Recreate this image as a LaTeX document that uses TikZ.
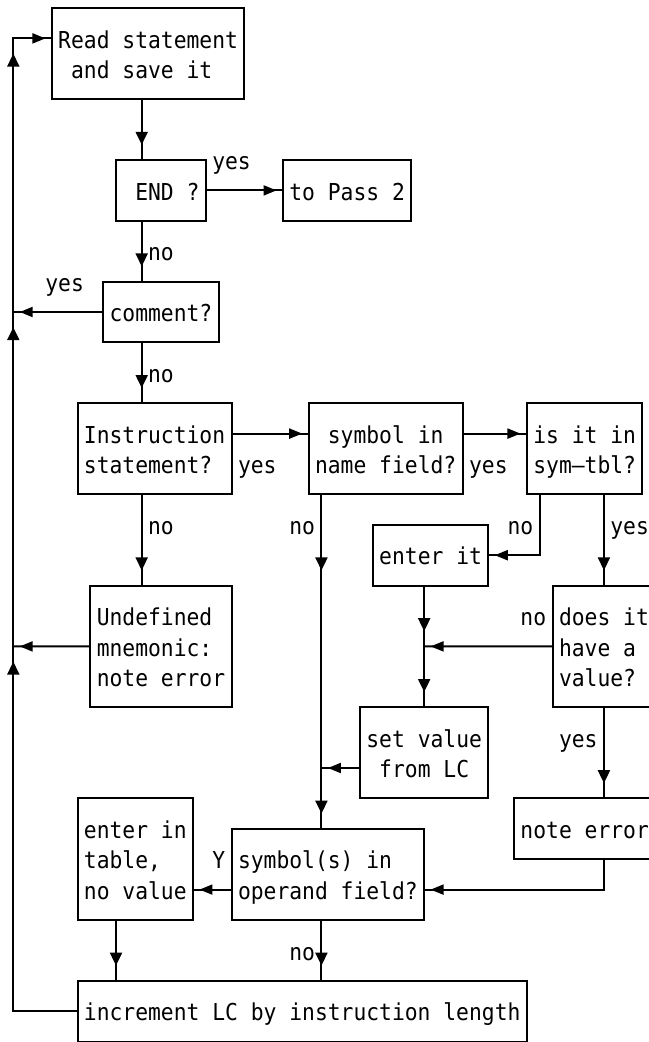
\documentclass[tikz,border=0pt]{standalone}
\usepackage{fontspec}
\newfontfamily\dmono[FakeStretch=0.9153]{DejaVu Sans Mono}
\usetikzlibrary{arrows.meta,decorations.markings}
\newcommand\bxl[1]{\mbox{\spaceskip=12.84pt\relax\xspaceskip=12.84pt\relax\rule[-5.6pt]{0pt}{30.4pt}#1}}
\tikzset{
  vhead/.tip={Triangle[length=13pt,width=12pt]},
  hhead/.tip={Triangle[length=13pt,width=10pt]},
  txt/.style={font={\fontsize{23.3pt}{30.4pt}\dmono\parindent=0pt}},
  box/.style={txt, draw, line width=2pt, anchor=north west, inner xsep=6.42pt,
              inner ysep=0pt, outer sep=0pt, align=left},
  lbl/.style={txt, anchor=west, inner sep=0pt, outer sep=0pt},
  conn/.style={draw, line width=2pt, line join=miter},
  vtip/.style={postaction={decorate}, decoration={markings,
      mark=at position #1 with {\arrow{vhead}}}},
  htip/.style={postaction={decorate}, decoration={markings,
      mark=at position #1 with {\arrow{hhead}}}},
}
\begin{document}
\begin{tikzpicture}[x=12.84pt,y=-30.4pt]
\path[use as bounding box] (-1.03583,-0.26316) rectangle (49.509,34.0132);
\clip (-1.03583,-0.26316) rectangle (49.509,34.0132);

\foreach \c in {0,8,10,24,32,41,46} \coordinate (c\c) at (\c,0);
\foreach \r in {1,14,25,29} \coordinate (r\r) at (0,\r);

% boxes
\node[box, text width=179.76pt, minimum height=91.2pt] (read) at (3,0) {\bxl{Read statement}\\\bxl{ and save it}};
\node[box, text width=77.04pt, minimum height=60.8pt] (endq) at (8,5) {\bxl{ END ?}};
\node[box, text width=115.56pt, minimum height=60.8pt] (pass) at (21,5) {\bxl{to Pass 2}};
\node[box, text width=102.72pt, minimum height=60.8pt] (comm) at (7,9) {\bxl{comment?}};
\node[box, text width=141.24pt, minimum height=91.2pt] (instr) at (5,13) {\bxl{Instruction}\\\bxl{statement?}};
\node[box, text width=141.24pt, minimum height=91.2pt] (sym) at (23,13) {\bxl{ symbol in}\\\bxl{name field?}};
\node[box, text width=102.72pt, minimum height=91.2pt] (intbl) at (40,13) {\bxl{is it in}\\\bxl{sym—tbl?}};
\node[box, text width=128.4pt, minimum height=121.6pt] (undef) at (6,19) {\bxl{Undefined}\\\bxl{mnemonic:}\\\bxl{note error}};
\node[box, text width=102.72pt, minimum height=60.8pt] (enterit) at (28,17) {\bxl{enter it}};
\node[box, text width=115.56pt, minimum height=121.6pt] (doesit) at (42,19) {\bxl{does it}\\\bxl{have a}\\\bxl{value?}};
\node[box, text width=115.56pt, minimum height=91.2pt] (setval) at (27,23) {\bxl{set value}\\\bxl{ from LC}};
\node[box, text width=102.72pt, minimum height=121.6pt] (entertbl) at (5,26) {\bxl{enter in}\\\bxl{table,}\\\bxl{no value}};
\node[box, text width=179.76pt, minimum height=91.2pt] (symop) at (17,27) {\bxl{symbol(s) in}\\\bxl{operand field?}};
\node[box, text width=141.24pt, minimum height=60.8pt] (noteerr) at (39,26) {\bxl{note error}};
\node[box, text width=436.56pt, minimum height=60.8pt] (incr) at (5,32) {\bxl{increment LC by instruction length}};

% labels
\node[lbl] (l1) at (15.5,5) {\bxl{yes}};
\node[lbl] (l2) at (10.5,8) {\bxl{no}};
\node[lbl] (l3) at (2.5,9) {\bxl{yes}};
\node[lbl] (l4) at (10.5,12) {\bxl{no}};
\node[lbl] (l5) at (17.5,15) {\bxl{yes}};
\node[lbl] (l6) at (35.5,15) {\bxl{yes}};
\node[lbl] (l7) at (10.5,17) {\bxl{no}};
\node[lbl] (l8) at (21.5,17) {\bxl{no}};
\node[lbl] (l9) at (38.5,17) {\bxl{no}};
\node[lbl] (l10) at (46.5,17) {\bxl{yes}};
\node[lbl] (l11) at (39.5,20) {\bxl{no}};
\node[lbl] (l12) at (42.5,24) {\bxl{yes}};
\node[lbl] (l13) at (15.5,28) {\bxl{Y}};
\node[lbl] (l14) at (21.5,31) {\bxl{no}};

% junction points on lines
\coordinate (j1) at (0,10);
\coordinate (j2) at (0,21);
\coordinate (j3) at (32,21);
\coordinate (j4) at (24,25);

% connectors
\draw[conn, vtip=-15.2pt] (read.south -| c10) -- (endq.north -| c10);
\draw[conn, htip=-6.42pt] (endq.east) -- (pass.west);
\draw[conn, vtip=-15.2pt] (endq.south -| c10) -- (comm.north -| c10);
\draw[conn, htip=-6.42pt] (comm.west) -- (j1);
\draw[conn, vtip=-15.2pt] (comm.south -| c10) -- (instr.north -| c10);
\draw[conn, htip=-6.42pt] (instr.east |- r14) -- (sym.west |- r14);
\draw[conn, htip=-6.42pt] (sym.east |- r14) -- (intbl.west |- r14);
\draw[conn, vtip=-15.2pt] (instr.south -| c10) -- (undef.north -| c10);
\draw[conn, htip=-6.42pt] (undef.west) -- (j2);
\draw[conn, postaction={decorate}, decoration={markings,
    mark=at position 76pt with {\arrow{vhead}},
    mark=at position -15.2pt with {\arrow{vhead}}}]
  (sym.south -| c24) -- (symop.north -| c24);
\draw[conn, htip=-6.42pt] (intbl.south -| c41) |- (enterit.east);
\draw[conn, vtip=-15.2pt] (intbl.south -| c46) -- (doesit.north -| c46);
\draw[conn, postaction={decorate}, decoration={markings,
    mark=at position 45.6pt with {\arrow{vhead}},
    mark=at position -15.2pt with {\arrow{vhead}}}]
  (enterit.south -| c32) -- (setval.north -| c32);
\draw[conn, htip=-6.42pt] (doesit.west) -- (j3);
\draw[conn, htip=-6.42pt] (setval.west |- r25) -- (j4);
\draw[conn, vtip=-15.2pt] (doesit.south -| c46) -- (noteerr.north -| c46);
\draw[conn, htip=-6.42pt] (noteerr.south -| c46) |- (symop.east |- r29);
\draw[conn, htip=-6.42pt] (symop.west |- r29) -- (entertbl.east |- r29);
\draw[conn, vtip=-15.2pt] (entertbl.south -| c8) -- (incr.north -| c8);
\draw[conn, vtip=-15.2pt] (symop.south -| c24) -- (incr.north -| c24);
\draw[conn, postaction={decorate}, decoration={markings,
    mark=at position 413.8pt with {\arrow{vhead}},
    mark=at position 748.2pt with {\arrow{vhead}},
    mark=at position 1021.8pt with {\arrow{vhead}},
    mark=at position -6.42pt with {\arrow{hhead}}}]
  (incr.west) -- (c0 |- incr.west) -- (c0 |- r1) -- (read.west |- r1);
\end{tikzpicture}
\end{document}
